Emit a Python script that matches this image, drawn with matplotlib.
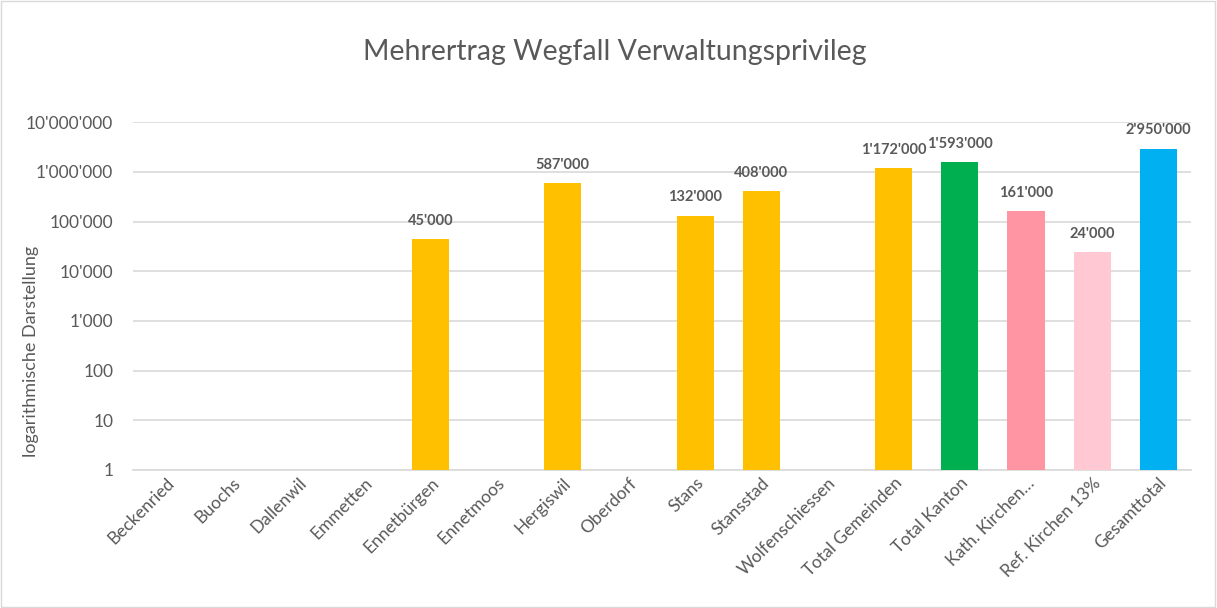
import numpy as np
import matplotlib.pyplot as plt
from matplotlib.ticker import FixedLocator, FuncFormatter

plt.rcParams['font.family'] = ['Lato', 'DejaVu Sans']

categories = ['Beckenried', 'Buochs', 'Dallenwil', 'Emmetten', 'Ennetbürgen',
              'Ennetmoos', 'Hergiswil', 'Oberdorf', 'Stans', 'Stansstad',
              'Wolfenschiessen', 'Total Gemeinden', 'Total Kanton',
              'Kath. Kirchen…', 'Ref. Kirchen 13%', 'Gesamttotal']
values = [0, 0, 0, 0, 45000, 0, 587000, 0, 132000, 408000, 0,
          1172000, 1593000, 161000, 24000, 2950000]
colors = ['#FFC000'] * 12 + ['#00B050', '#FF95A3', '#FFC8D2', '#00B0F0']

grey = '#595959'


def swiss(v):
    return f"{int(v):,}".replace(',', "'")


fig = plt.figure(figsize=(12.17, 6.08), dpi=100)
ax = fig.add_axes([0.109, 0.227, 0.870, 0.572])

# Excel-artiger Rahmen
fig.patches.append(plt.Rectangle((0.001, 0.001), 0.997, 0.997, transform=fig.transFigure,
                                 fill=False, edgecolor='#d9d9d9', linewidth=1))

x = np.arange(len(categories))
h = np.array([v if v > 0 else np.nan for v in values], dtype=float)
ax.set_yscale('log')
ax.bar(x, h, width=0.56, color=colors, bottom=1, zorder=3)

for xi, v in zip(x, values):
    if v > 0:
        ax.annotate(swiss(v), (xi, v), xytext=(0, 8), textcoords='offset points',
                    ha='center', va='bottom', fontsize=10.5, fontweight='bold', color=grey)

ax.set_ylim(1, 1e7)
ax.set_xlim(-0.5, len(categories) - 0.5)
ax.yaxis.set_major_locator(FixedLocator([10 ** i for i in range(8)]))
ax.yaxis.set_minor_locator(FixedLocator([]))
ax.yaxis.set_major_formatter(FuncFormatter(lambda v, p: swiss(v)))
ax.grid(axis='y', color='#d9d9d9', linewidth=1.2, zorder=0)
for s in ['top', 'right', 'left']:
    ax.spines[s].set_visible(False)
ax.spines['bottom'].set_color('#d9d9d9')
ax.spines['bottom'].set_linewidth(1.2)
ax.tick_params(axis='both', length=0, colors=grey, labelsize=12.5)
ax.tick_params(axis='y', pad=14)

ax.set_xticks(x)
ax.set_xticklabels(categories, rotation=45, ha='right', rotation_mode='anchor',
                   fontsize=12.5, color=grey)

ax.set_ylabel('logarithmische Darstellung', fontsize=13, color=grey)
ax.yaxis.set_label_coords(-0.088, 0.34)
fig.text(0.505, 0.915, 'Mehrertrag Wegfall Verwaltungsprivileg', ha='center', va='center',
         fontsize=20.5, color=grey)

fig.savefig('out.png', dpi=100)
